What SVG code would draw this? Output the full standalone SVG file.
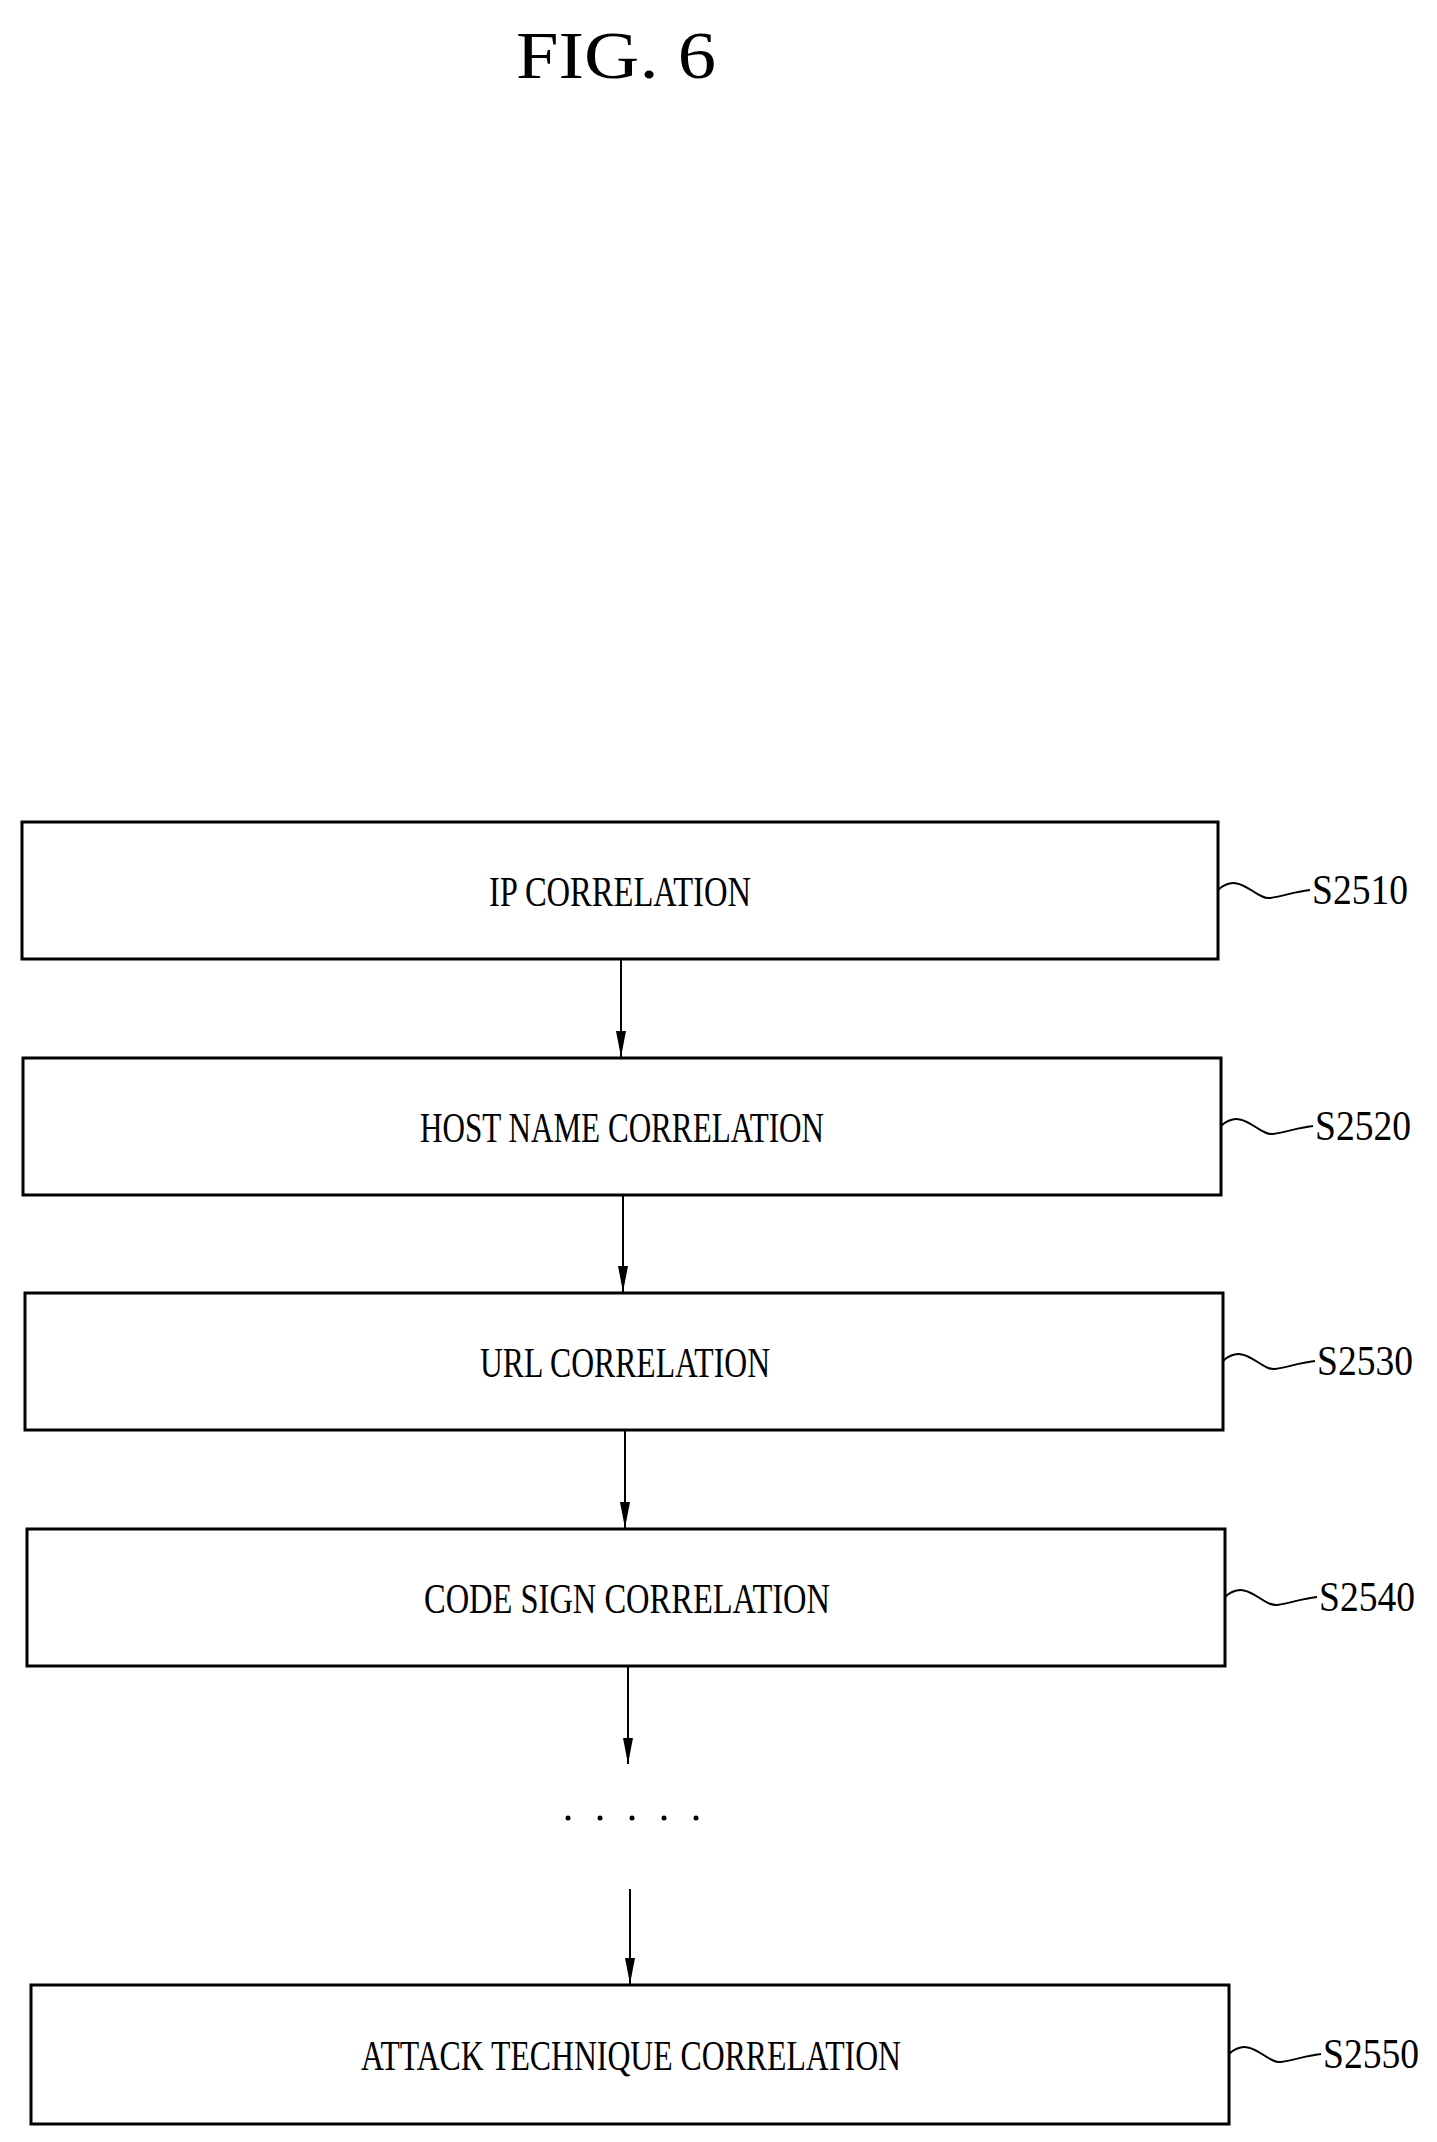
<svg xmlns="http://www.w3.org/2000/svg" width="1437" height="2142" viewBox="0 0 1437 2142">
<style>
.box{fill:#fff;stroke:#000;stroke-width:3}
.t{font-family:"Liberation Serif",serif;font-size:42px;text-anchor:middle}
.lbl{font-family:"Liberation Serif",serif;font-size:42px}
.c{stroke:#000;stroke-width:2;fill:none}
</style>
<defs><marker id="a" markerWidth="26" markerHeight="10" refX="26" refY="5" orient="auto" markerUnits="userSpaceOnUse" viewBox="0 0 26 10"><path d="M0,0 L26,5 L0,10 Z" fill="#000"/></marker></defs>
<rect width="1437" height="2142" fill="#fff"/>
<text x="616" y="78" style="font-family:'Liberation Serif',serif;font-size:68px;text-anchor:middle" textLength="200" lengthAdjust="spacingAndGlyphs">FIG. 6</text>
<g id="n1"><rect class="box" x="22" y="822" width="1196" height="137"/><text class="t" x="620" y="906" textLength="262" lengthAdjust="spacingAndGlyphs">IP CORRELATION</text>
<path class="c" d="M1218,890 C1240,870 1255,900 1270,898 C1285,896 1292,892 1310,890"/><text class="lbl" x="1312" y="904" textLength="96" lengthAdjust="spacingAndGlyphs">S2510</text></g>
<g id="n2"><rect class="box" x="23" y="1058" width="1198" height="137"/><text class="t" x="622" y="1142" textLength="404" lengthAdjust="spacingAndGlyphs">HOST NAME CORRELATION</text>
<path class="c" d="M1221,1126 C1243,1106 1258,1136 1273,1134 C1288,1132 1295,1128 1313,1126"/><text class="lbl" x="1315" y="1140" textLength="96" lengthAdjust="spacingAndGlyphs">S2520</text></g>
<g id="n3"><rect class="box" x="25" y="1293" width="1198" height="137"/><text class="t" x="625" y="1377" textLength="290" lengthAdjust="spacingAndGlyphs">URL CORRELATION</text>
<path class="c" d="M1223,1361 C1245,1341 1260,1371 1275,1369 C1290,1367 1297,1363 1315,1361"/><text class="lbl" x="1317" y="1375" textLength="96" lengthAdjust="spacingAndGlyphs">S2530</text></g>
<g id="n4"><rect class="box" x="27" y="1529" width="1198" height="137"/><text class="t" x="627" y="1613" textLength="406" lengthAdjust="spacingAndGlyphs">CODE SIGN CORRELATION</text>
<path class="c" d="M1225,1597 C1247,1577 1262,1607 1277,1605 C1292,1603 1299,1599 1317,1597"/><text class="lbl" x="1319" y="1611" textLength="96" lengthAdjust="spacingAndGlyphs">S2540</text></g>
<g id="n5"><rect class="box" x="31" y="1985" width="1198" height="139"/><text class="t" x="631" y="2070" textLength="540" lengthAdjust="spacingAndGlyphs">ATTACK TECHNIQUE CORRELATION</text>
<path class="c" d="M1229,2054 C1251,2034 1266,2064 1281,2062 C1296,2060 1303,2056 1321,2054"/><text class="lbl" x="1323" y="2068" textLength="96" lengthAdjust="spacingAndGlyphs">S2550</text></g>
<g id="dots" fill="#000"><circle cx="568" cy="1818" r="2.5"/><circle cx="600" cy="1818" r="2.5"/><circle cx="632" cy="1818" r="2.5"/><circle cx="664" cy="1818" r="2.5"/><circle cx="696" cy="1818" r="2.5"/></g>
<g id="connectors" class="c">
<line x1="621" y1="959" x2="621" y2="1057" marker-end="url(#a)"/>
<line x1="623" y1="1195" x2="623" y2="1292" marker-end="url(#a)"/>
<line x1="625" y1="1430" x2="625" y2="1528" marker-end="url(#a)"/>
<line x1="628" y1="1666" x2="628" y2="1764" marker-end="url(#a)"/>
<line x1="630" y1="1889" x2="630" y2="1984" marker-end="url(#a)"/>
</g>
</svg>
